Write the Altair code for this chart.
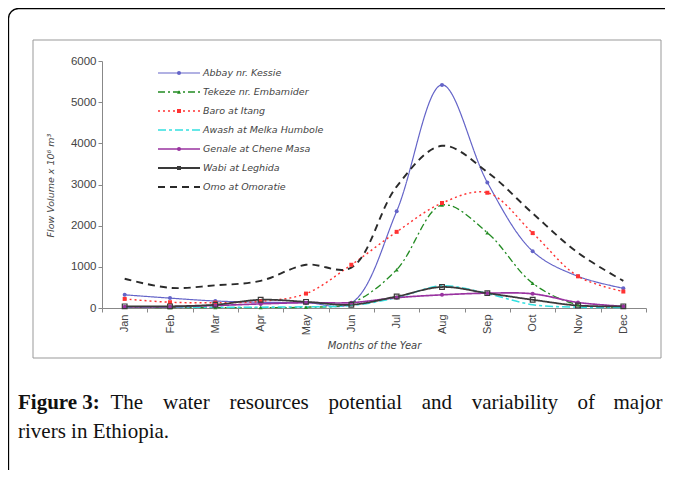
import altair as alt
import pandas as pd

months = ["Jan", "Feb", "Mar", "Apr", "May", "Jun", "Jul", "Aug", "Sep", "Oct", "Nov", "Dec"]
series_names = ["Abbay nr. Kessie", "Tekeze nr. Embamider", "Baro at Itang",
                "Awash at Melka Humbole", "Genale at Chene Masa", "Wabi at Leghida",
                "Omo at Omoratie"]
abbay = [320, 240, 170, 140, 130, 120, 2350, 5420, 3050, 1380, 770, 480]
tekeze = [20, 10, 10, 10, 20, 120, 930, 2500, 1830, 600, 80, 30]
baro = [220, 140, 130, 160, 350, 1050, 1850, 2550, 2800, 1820, 770, 400]
awash = [20, 20, 20, 20, 30, 60, 250, 540, 350, 80, 20, 10]
genale = [30, 30, 60, 100, 130, 130, 250, 320, 360, 345, 135, 40]
wabi = [40, 40, 80, 200, 150, 80, 280, 510, 360, 200, 60, 40]
omo = [710, 490, 550, 660, 1050, 980, 2950, 3940, 3300, 2300, 1340, 660]
y_ticks = list(range(0, 6001, 500))

colors = ["#6464c8", "#228b22", "#ff3333", "#33e0e0", "#9933a0", "#3a3a3a", "#2a2a2a"]
dashes = [[1, 0], [7, 3, 2, 3], [2, 3], [8, 3, 3, 3], [1, 0], [1, 0], [7, 5]]
widths = [1.2, 1.9, 1.8, 1.8, 1.2, 1.2, 1.7]
shapes = ["circle", "triangle-up", "square", "circle", "circle", "square", "circle"]

caption_words = ["The", "water", "resources", "potential", "and", "variability", "of", "major"]
caption_x = [8.5, 61.0, 127.5, 226.5, 319.8, 369.7, 475.5, 511.5]

all_values = [abbay, tekeze, baro, awash, genale, wabi, omo]
rows = []
for name, vals in zip(series_names, all_values):
    for m, v in zip(months, vals):
        rows.append({"series": name, "month": m, "value": v})
df = pd.DataFrame(rows)

color_scale = alt.Scale(domain=series_names, range=colors)
dash_scale = alt.Scale(domain=series_names, range=dashes)
width_scale = alt.Scale(domain=series_names, range=widths)
shape_scale = alt.Scale(domain=series_names, range=shapes)

x_enc = alt.X("month:N", sort=months,
              scale=alt.Scale(type="band", paddingInner=0, paddingOuter=0),
              axis=alt.Axis(title="Months of the Year", labelAngle=-90, tickBand="extent",
                            labelFont="Liberation Sans", labelFontSize=11, labelColor="#444",
                            labelPadding=2, tickSize=4, tickColor="#888", domainColor="#888",
                            titleFont="DejaVu Sans", titleFontStyle="italic", titleFontWeight="normal",
                            titleFontSize=10, titleColor="#444", titleX=272, titleY=37,
                            titleBaseline="middle", titleAlign="center", grid=False))
y_enc = alt.Y("value:Q", scale=alt.Scale(domain=[0, 6000], nice=False),
              axis=alt.Axis(title="Flow Volume x 10⁶ m³", values=y_ticks, format="d",
                            labelFont="Liberation Sans", labelFontSize=11.5, labelColor="#444",
                            labelPadding=2, tickSize=4, tickColor="#888", domainColor="#888",
                            titleFont="DejaVu Sans", titleFontStyle="italic", titleFontWeight="normal",
                            titleFontSize=9.5, titleColor="#444", titleX=-52, titleY=124,
                            titleAngle=-90, titleAlign="center", titleBaseline="middle", grid=False))

lines = alt.Chart(df).mark_line(interpolate="catmull-rom").encode(
    x=x_enc, y=y_enc,
    color=alt.Color("series:N", scale=color_scale, legend=None),
    strokeDash=alt.StrokeDash("series:N", scale=dash_scale, legend=None),
    strokeWidth=alt.StrokeWidth("series:N", scale=width_scale, legend=None),
    detail="series:N",
)

filled_set = ["Abbay nr. Kessie", "Tekeze nr. Embamider", "Baro at Itang", "Genale at Chene Masa"]
pts_filled = alt.Chart(df).transform_filter(
    alt.FieldOneOfPredicate(field="series", oneOf=filled_set)
).mark_point(filled=True, size=16, opacity=1).encode(
    x=alt.X("month:N", sort=months, scale=alt.Scale(type="band", paddingInner=0, paddingOuter=0)),
    y=alt.Y("value:Q"),
    color=alt.Color("series:N", scale=color_scale, legend=None),
    shape=alt.Shape("series:N", scale=shape_scale, legend=None),
)
pts_open = alt.Chart(df).transform_filter(
    alt.FieldEqualPredicate(field="series", equal="Wabi at Leghida")
).mark_point(filled=False, size=22, strokeWidth=1.2, opacity=1).encode(
    x=alt.X("month:N", sort=months, scale=alt.Scale(type="band", paddingInner=0, paddingOuter=0)),
    y=alt.Y("value:Q"),
    color=alt.Color("series:N", scale=color_scale, legend=None),
    shape=alt.Shape("series:N", scale=shape_scale, legend=None),
)

main = alt.layer(lines, pts_filled, pts_open)

# manual legend
leg_df = pd.DataFrame({"series": series_names})
leg_y = alt.Y("series:N", scale=alt.Scale(type="point", domain=series_names, range=[12, 126], padding=0),
              axis=None)
leg_lines = alt.Chart(leg_df).mark_rule().encode(
    x=alt.value(56), x2=alt.value(98), y=leg_y,
    color=alt.Color("series:N", scale=color_scale, legend=None),
    strokeDash=alt.StrokeDash("series:N", scale=dash_scale, legend=None),
    strokeWidth=alt.StrokeWidth("series:N", scale=width_scale, legend=None),
)
leg_pts = alt.Chart(leg_df).transform_filter(
    alt.FieldOneOfPredicate(field="series", oneOf=filled_set + ["Wabi at Leghida"])
).mark_point(filled=True, size=16, opacity=1).encode(
    x=alt.value(77), y=leg_y,
    color=alt.Color("series:N", scale=color_scale, legend=None),
    shape=alt.Shape("series:N", scale=shape_scale, legend=None),
)
leg_text = alt.Chart(leg_df).mark_text(
    align="left", baseline="middle", font="DejaVu Sans", fontStyle="italic",
    fontSize=9.5, color="#444"
).encode(x=alt.value(101), y=leg_y, text="series:N")
legend = alt.layer(leg_lines, leg_pts, leg_text)

# frames and caption
one = pd.DataFrame({"a": [0]})
outer = alt.Chart(one).mark_rect(filled=False, stroke="#000", strokeWidth=1.3, cornerRadius=10).encode(
    x=alt.value(-93.5), x2=alt.value(720), y=alt.value(-52.5), y2=alt.value(520))
inner = alt.Chart(one).mark_rect(filled=False, stroke="#999", strokeWidth=1).encode(
    x=alt.value(-69), x2=alt.value(559), y=alt.value(-21), y2=alt.value(297))
cap_bold = alt.Chart(one).mark_text(
    align="left", baseline="alphabetic", font="Liberation Serif", fontWeight="bold",
    fontSize=21, color="#111", text="Figure 3:"
).encode(x=alt.value(-84), y=alt.value(348))
cap_df = pd.DataFrame({"w": caption_words, "px": caption_x})
cap_words = alt.Chart(cap_df).mark_text(
    align="left", baseline="alphabetic", font="Liberation Serif", fontSize=21, color="#111"
).encode(x=alt.X("px:Q", scale=None, axis=None), y=alt.value(348), text="w:N")
cap2 = alt.Chart(one).mark_text(
    align="left", baseline="alphabetic", font="Liberation Serif", fontSize=21, color="#111",
    text="rivers in Ethiopia."
).encode(x=alt.value(-84), y=alt.value(377))
deco = alt.layer(outer, inner, cap_bold, cap_words, cap2)

chart = alt.layer(deco, main, legend).resolve_scale(
    y="independent", x="independent"
).properties(
    width=544, height=247,
    autosize=alt.AutoSizeParams(type="none"),
    padding={"left": 94, "top": 53, "right": 19, "bottom": 162},
    background="white",
).configure_view(stroke=None)

chart.save("out.html", embed_options={"renderer": "svg", "actions": False})
